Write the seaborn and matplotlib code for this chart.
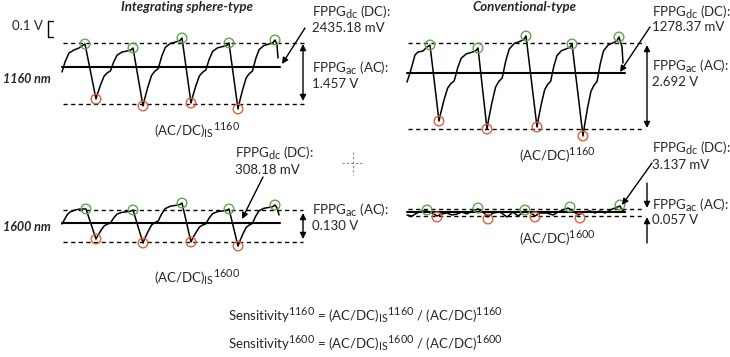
import numpy as np
import matplotlib.pyplot as plt
import matplotlib._mathtext as mathtext_internal
import seaborn as sns

# pulse shape (fraction of time / height going from a trough up to the next peak)
PULSE_T = [0, 0.04, 0.13, 0.22, 0.30, 0.39, 0.48, 0.57, 0.70, 0.83, 0.94, 1.0]
PULSE_H = [0, 0.10, 0.29, 0.45, 0.51, 0.55, 0.73, 0.86, 0.92, 0.94, 0.96, 1.0]

# integrating sphere, 1160 nm
is1160_lead_x = [62, 65, 69, 74, 79]
is1160_lead_y = [72, 62, 53, 50, 48]
is1160_peak_x = [85, 133, 182, 229, 275]
is1160_peak_y = [44, 48, 38, 43, 40]
is1160_trough_x = [96, 143, 191, 238]
is1160_trough_y = [99, 106, 103, 109]
is1160_tail_x = [277, 278]
is1160_tail_y = [45, 58]

# conventional, 1160 nm
cv1160_lead_x = [407, 410, 415, 418, 423, 427]
cv1160_lead_y = [82, 73, 55, 52, 51, 47]
cv1160_peak_x = [430, 478, 526, 572, 619]
cv1160_peak_y = [45, 48, 36, 44, 37]
cv1160_trough_x = [439, 487, 537, 583]
cv1160_trough_y = [121, 129, 127, 136]
cv1160_tail_x = [622, 623]
cv1160_tail_y = [47, 63]

# integrating sphere, 1600 nm
is1600_lead_x = [62, 67, 70, 75, 80]
is1600_lead_y = [224, 215, 212, 210, 209]
is1600_peak_x = [86, 133, 182, 229, 275]
is1600_peak_y = [209, 210, 203, 209, 205]
is1600_trough_x = [96, 143, 191, 238]
is1600_trough_y = [239, 243, 242, 246]
is1600_tail_x = [277, 279]
is1600_tail_y = [208, 215]

# conventional, 1600 nm (noisy trace)
cv1600_x = [407, 412, 417, 422, 427, 432, 437, 442, 447, 452, 457, 462, 467, 472, 478,
            483, 488, 493, 500, 507, 513, 518, 525, 530, 535, 540, 547, 553, 558, 563,
            568, 573, 578, 584, 590, 595, 600, 605, 610, 615, 620, 622, 625]
cv1600_y = [215, 216, 213, 211, 211, 213, 216, 214, 213, 215, 214, 212, 214, 211, 209,
            212, 217, 213, 212, 217, 212, 216, 211, 212, 216, 213, 213, 215, 212, 210,
            208, 211, 215, 212, 211, 213, 211, 213, 210, 208, 206, 210, 212]
cv1600_peak_x = [427, 478, 525, 570, 620]
cv1600_peak_y = [210, 208, 210, 207, 205]
cv1600_trough_x = [437, 488, 535, 580]
cv1600_trough_y = [217, 219, 217, 218]

GREEN = '#62a452'
RED = '#e0603e'

sns.set_theme(style='white')
plt.rcParams['font.family'] = ['Lato', 'DejaVu Sans']
plt.rcParams['mathtext.fontset'] = 'custom'
plt.rcParams['mathtext.rm'] = 'Lato'
plt.rcParams['mathtext.it'] = 'Lato:italic'
plt.rcParams['mathtext.bf'] = 'Lato:bold'
# sub/superscripts in the original are only a little smaller than the text
mathtext_internal.SHRINK_FACTOR = 0.82


def build_wave(lead_x, lead_y, peak_x, peak_y, trough_x, trough_y, tail_x, tail_y):
    xs, ys = list(lead_x), list(lead_y)
    for i in range(len(trough_x)):
        xs.append(peak_x[i]); ys.append(peak_y[i])
        tx, ty = trough_x[i], trough_y[i]
        px, py = peak_x[i + 1], peak_y[i + 1]
        for t, h in zip(PULSE_T[:-1], PULSE_H[:-1]):
            xs.append(tx + t * (px - tx))
            ys.append(ty + h * (py - ty))
    xs.append(peak_x[-1]); ys.append(peak_y[-1])
    return xs + list(tail_x), ys + list(tail_y)


fig = plt.figure(figsize=(7.3, 3.57), dpi=100)
ax = fig.add_axes([0, 0, 1, 1])
ax.set_xlim(0, 730)
ax.set_ylim(357, 0)
ax.axis('off')

waves = [
    build_wave(is1160_lead_x, is1160_lead_y, is1160_peak_x, is1160_peak_y,
               is1160_trough_x, is1160_trough_y, is1160_tail_x, is1160_tail_y),
    build_wave(cv1160_lead_x, cv1160_lead_y, cv1160_peak_x, cv1160_peak_y,
               cv1160_trough_x, cv1160_trough_y, cv1160_tail_x, cv1160_tail_y),
    build_wave(is1600_lead_x, is1600_lead_y, is1600_peak_x, is1600_peak_y,
               is1600_trough_x, is1600_trough_y, is1600_tail_x, is1600_tail_y),
    (cv1600_x, cv1600_y),
]
for wx, wy in waves:
    sns.lineplot(x=wx, y=wy, sort=False, estimator=None, color='black', lw=1.1, ax=ax)

peaks = [(is1160_peak_x, is1160_peak_y), (cv1160_peak_x, cv1160_peak_y),
         (is1600_peak_x, is1600_peak_y), (cv1600_peak_x, cv1600_peak_y)]
troughs = [(is1160_trough_x, is1160_trough_y), (cv1160_trough_x, cv1160_trough_y),
           (is1600_trough_x, is1600_trough_y), (cv1600_trough_x, cv1600_trough_y)]
for px, py in peaks:
    sns.scatterplot(x=px, y=py, color='none', edgecolor=GREEN, linewidth=1, s=48, ax=ax, zorder=3)
for tx, ty in troughs:
    sns.scatterplot(x=tx, y=ty, color='none', edgecolor=RED, linewidth=1, s=48, ax=ax, zorder=3)

# baselines (DC level) and dashed max/min guides
dash = (0, (3, 2.5))
for y, x0, x1 in [(67, 62, 280), (73, 407, 625), (223, 62, 280), (212, 407, 625)]:
    ax.plot([x0, x1], [y, y], color='black', lw=1.5)
for y, x0, x1 in [(43, 63, 305), (104, 63, 305), (43, 408, 645), (129, 408, 645),
                  (210, 63, 303), (242, 63, 303), (209, 408, 645), (216, 408, 645)]:
    ax.plot([x0, x1], [y, y], color='black', lw=1, ls=dash)

arrow = dict(arrowstyle='-|>', color='black', lw=1, mutation_scale=9, shrinkA=0, shrinkB=0)
both = dict(arrowstyle='<|-|>', color='black', lw=1, mutation_scale=9, shrinkA=0, shrinkB=0)
for xy, xytext in [((282, 64), (305, 28)), ((620, 72), (650, 27)),
                   ((242, 219), (263, 177)), ((622, 205), (652, 163))]:
    ax.annotate('', xy=xy, xytext=xytext, arrowprops=arrow)
for x, y0, y1 in [(303, 44, 101), (647, 45, 128), (303, 213, 239)]:
    ax.annotate('', xy=(x, y1), xytext=(x, y0), arrowprops=both)
ax.annotate('', xy=(647, 208), xytext=(647, 183), arrowprops=arrow)
ax.annotate('', xy=(647, 217), xytext=(647, 243), arrowprops=arrow)

# 0.1 V scale bracket
ax.plot([53, 48, 48, 53], [21, 21, 37, 37], color='black', lw=1)
ax.text(43, 26, '0.1 V', ha='right', va='center', fontsize=9.5)

# crosshair in the middle
ax.plot([342, 364], [163, 163], color='#888888', lw=0.8, ls=(0, (2, 2)))
ax.plot([353, 353], [152, 175], color='#888888', lw=0.8, ls=(0, (2, 2)))

ax.text(187, 7, 'Integrating sphere-type', ha='center', va='center',
        fontsize=9.5, fontweight='bold', fontstyle='italic')
ax.text(525, 7, 'Conventional-type', ha='center', va='center',
        fontsize=9.5, fontweight='bold', fontstyle='italic')
ax.text(51, 79, '1160 nm', ha='right', va='center', fontsize=9, fontweight='bold', fontstyle='italic')
ax.text(51, 227, '1600 nm', ha='right', va='center', fontsize=9, fontweight='bold', fontstyle='italic')

dc = r'FPPG$_{\mathrm{dc}}$ (DC):'
ac = r'FPPG$_{\mathrm{ac}}$ (AC):'
labels = [
    (312, 12, dc), (312, 28, '2435.18 mV'), (312, 68, ac), (312, 84, '1.457 V'),
    (652, 12, dc), (652, 27, '1278.37 mV'), (652, 66, ac), (652, 82, '2.692 V'),
    (235, 153, dc), (235, 170, '308.18 mV'), (312, 210, ac), (312, 226, '0.130 V'),
    (652, 148, dc), (652, 165, '3.137 mV'), (652, 205, ac), (652, 220, '0.057 V'),
]
for x, y, s in labels:
    ax.text(x, y, s, ha='left', va='center', fontsize=9.5)

ratio = [
    (197, 130, r'(AC/DC)$_{\mathrm{IS}}{}^{\mathrm{1160}}$'),
    (197, 277, r'(AC/DC)$_{\mathrm{IS}}{}^{\mathrm{1600}}$'),
    (557, 155, r'(AC/DC)$^{\mathrm{1160}}$'),
    (557, 238, r'(AC/DC)$^{\mathrm{1600}}$'),
    (365, 315, r'Sensitivity$^{\mathrm{1160}}$ = (AC/DC)$_{\mathrm{IS}}{}^{\mathrm{1160}}$ / (AC/DC)$^{\mathrm{1160}}$'),
    (365, 343, r'Sensitivity$^{\mathrm{1600}}$ = (AC/DC)$_{\mathrm{IS}}{}^{\mathrm{1600}}$ / (AC/DC)$^{\mathrm{1600}}$'),
]
for x, y, s in ratio:
    ax.text(x, y, s, ha='center', va='center', fontsize=9.5)

fig.savefig('out.png', dpi=100)
